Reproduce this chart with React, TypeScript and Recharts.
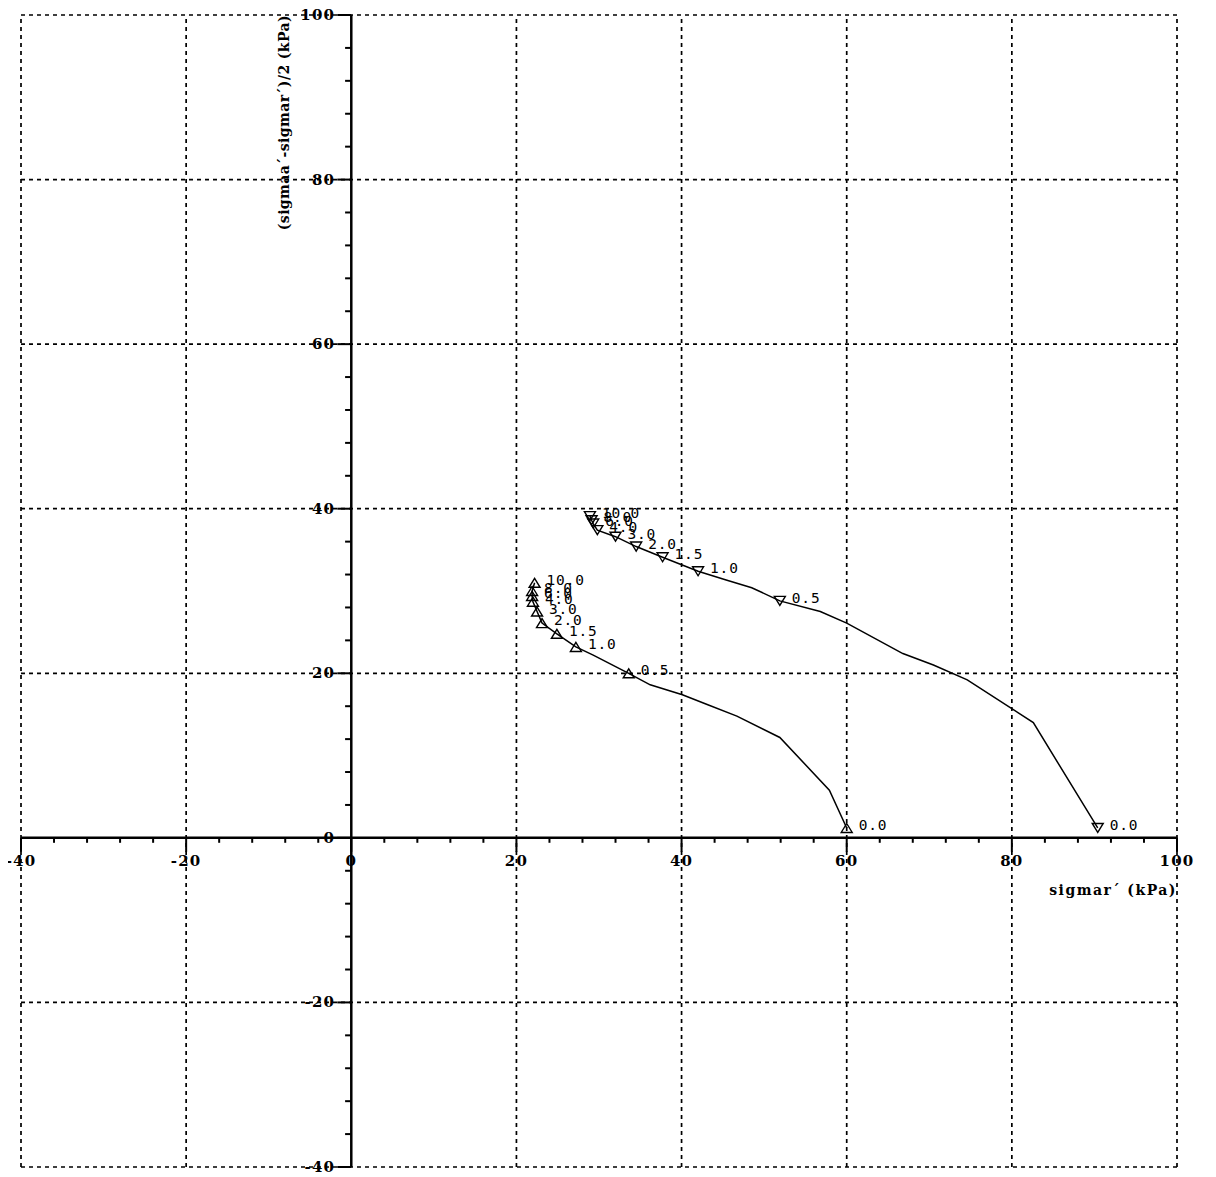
import React from 'react';
import { ScatterChart, Scatter, XAxis, YAxis, ReferenceLine } from 'recharts';

// stage labels written next to each marked reading
const stageLabels = ['0.0', '0.5', '1.0', '1.5', '2.0', '3.0', '4.0', '6.0', '8.0', '10.0'];

// lower path (triangle up markers)
const upMarkX = [60.0, 33.6, 27.2, 24.9, 23.1, 22.5, 22.0, 21.9, 21.9, 22.2];
const upMarkY = [1.2, 20.0, 23.2, 24.8, 26.1, 27.5, 28.7, 29.4, 30.0, 31.0];
const upPathX = [60.0, 57.9, 51.9, 46.7, 43.1, 40.1, 36.2, 33.6, 29.3, 27.2, 24.9, 23.1, 22.5, 22.0, 21.9, 21.9, 22.2];
const upPathY = [1.2, 5.8, 12.2, 14.8, 16.2, 17.4, 18.6, 20.0, 22.2, 23.2, 24.8, 26.1, 27.5, 28.7, 29.4, 30.0, 31.0];

// upper path (triangle down markers)
const downMarkX = [90.4, 51.9, 42.0, 37.7, 34.5, 32.0, 29.8, 29.3, 29.1, 28.9];
const downMarkY = [1.2, 28.8, 32.4, 34.1, 35.4, 36.6, 37.4, 38.2, 38.6, 39.1];
const downPathX = [90.4, 82.6, 74.6, 70.5, 66.8, 60.0, 56.8, 51.9, 48.5, 45.5, 42.0, 37.7, 34.5, 32.0, 29.8, 29.3, 29.1, 28.9];
const downPathY = [1.2, 14.0, 19.2, 21.0, 22.4, 26.1, 27.5, 28.8, 30.4, 31.3, 32.4, 34.1, 35.4, 36.6, 37.4, 38.2, 38.6, 39.1];

// axes
const majorTicks = [-40, -20, 0, 20, 40, 60, 80, 100];
const gridTicks = [-40, -20, 20, 40, 60, 80, 100];
const minorTicks: number[] = [];
for (let v = -36; v < 100; v += 4) if (v % 20 !== 0) minorTicks.push(v);

const toPoints = (xs: number[], ys: number[], labels?: string[]) =>
  xs.map((x, i) => ({ x, y: ys[i], label: labels ? labels[i] : '' }));

const upPath = toPoints(upPathX, upPathY);
const upMarks = toPoints(upMarkX, upMarkY, stageLabels);
const downPath = toPoints(downPathX, downPathY);
const downMarks = toPoints(downMarkX, downMarkY, stageLabels);

const INK = '#000';
const serifBold = { fontFamily: '"DejaVu Serif", serif', fontWeight: 'bold' as const };

const makeMarker = (dir: 'up' | 'down') => (props: any) => {
  const { cx, cy } = props;
  const label = props.payload?.label ?? props.label;
  const w = 5.5;
  const h = 4.5;
  const d =
    dir === 'up'
      ? `M${cx - w},${cy + h}L${cx + w},${cy + h}L${cx},${cy - h}Z`
      : `M${cx - w},${cy - h}L${cx + w},${cy - h}L${cx},${cy + h}Z`;
  return (
    <g>
      <path d={d} fill="none" stroke={INK} strokeWidth={1.4} />
      <text
        x={cx + 12}
        y={cy - 3}
        dominantBaseline="central"
        fontFamily='"DejaVu Sans Mono", monospace'
        fontSize={14.5}
        letterSpacing={0.8}
        fill={INK}
      >
        {label}
      </text>
    </g>
  );
};

const noDot = () => <g />;

export default function App() {
  return (
    <div style={{ margin: '-8px 0 0 -8px', width: 1216, height: 1177, background: '#fff' }}>
      <ScatterChart width={1216} height={1177} margin={{ top: 15, left: 21, right: 39, bottom: 10 }}>
        <XAxis type="number" dataKey="x" domain={[-40, 100]} allowDataOverflow hide />
        <YAxis type="number" dataKey="y" domain={[-40, 100]} allowDataOverflow hide />

        {gridTicks.map((v) => (
          <ReferenceLine key={`gx${v}`} x={v} stroke={INK} strokeWidth={1.7} strokeDasharray="4 4" />
        ))}
        {gridTicks.map((v) => (
          <ReferenceLine key={`gy${v}`} y={v} stroke={INK} strokeWidth={1.7} strokeDasharray="4 4" />
        ))}

        <ReferenceLine
          y={0}
          stroke={INK}
          strokeWidth={2.5}
          label={(p: any) => (
            <text
              x={p.viewBox.x + p.viewBox.width}
              y={p.viewBox.y + 52}
              textAnchor="end"
              dominantBaseline="central"
              fontSize={14}
              letterSpacing={1.5}
              fill={INK}
              {...serifBold}
            >
              {'sigmar´  (kPa)'}
            </text>
          )}
        />
        <ReferenceLine
          x={0}
          stroke={INK}
          strokeWidth={2.5}
          label={(p: any) => {
            const tx = p.viewBox.x - 67;
            const ty = p.viewBox.y;
            return (
              <text
                x={tx}
                y={ty}
                transform={`rotate(-90 ${tx} ${ty})`}
                textAnchor="end"
                dominantBaseline="central"
                fontSize={14}
                letterSpacing={0.4}
                fill={INK}
                {...serifBold}
              >
                (sigmaa´-sigmar´)/2 (kPa)
              </text>
            );
          }}
        />

        {minorTicks.map((v) => (
          <ReferenceLine key={`mx${v}`} segment={[{ x: v, y: 0 }, { x: v, y: -0.6 }]} stroke={INK} strokeWidth={2} />
        ))}
        {minorTicks.map((v) => (
          <ReferenceLine key={`my${v}`} segment={[{ x: 0, y: v }, { x: -0.75, y: v }]} stroke={INK} strokeWidth={2} />
        ))}
        {majorTicks.map((v) => (
          <ReferenceLine
            key={`Mx${v}`}
            segment={[{ x: v, y: 0 }, { x: v, y: -1.7 }]}
            stroke={INK}
            strokeWidth={2}
            label={(p: any) => (
              <text
                x={p.viewBox.x}
                y={p.viewBox.y + p.viewBox.height + 9}
                textAnchor="middle"
                dominantBaseline="central"
                fontSize={15}
                letterSpacing={1.2}
                fill={INK}
                {...serifBold}
              >
                {v}
              </text>
            )}
          />
        ))}
        {majorTicks.map((v) => (
          <ReferenceLine
            key={`My${v}`}
            segment={[{ x: 0, y: v }, { x: -1.7, y: v }]}
            stroke={INK}
            strokeWidth={2}
            label={(p: any) => (
              <text
                x={p.viewBox.x - 2}
                y={p.viewBox.y}
                textAnchor="end"
                dominantBaseline="central"
                fontSize={15}
                letterSpacing={1.2}
                fill={INK}
                {...serifBold}
              >
                {v}
              </text>
            )}
          />
        ))}

        <Scatter data={upPath} line={{ stroke: INK, strokeWidth: 1.5 }} shape={noDot} isAnimationActive={false} />
        <Scatter data={downPath} line={{ stroke: INK, strokeWidth: 1.5 }} shape={noDot} isAnimationActive={false} />
        <Scatter data={upMarks} shape={makeMarker('up')} isAnimationActive={false} />
        <Scatter data={downMarks} shape={makeMarker('down')} isAnimationActive={false} />
      </ScatterChart>
    </div>
  );
}
